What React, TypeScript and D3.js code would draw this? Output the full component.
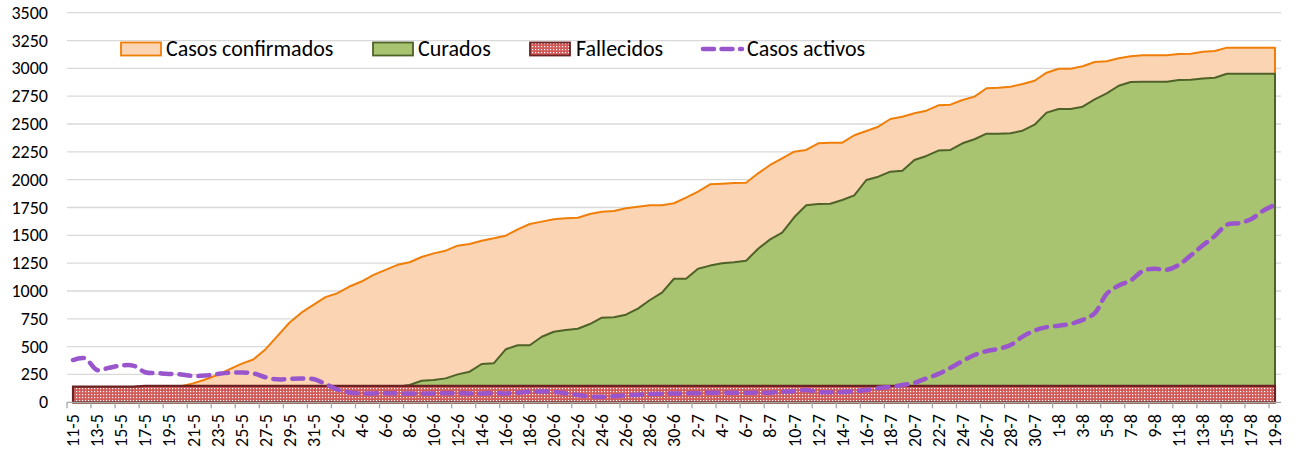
import { useEffect, useRef } from 'react';
import * as d3 from 'd3';

// Daily categories from 11-5 to 19-8
const startDay = new Date(2020, 4, 11);
const endDay = new Date(2020, 7, 20);
const fmtDay = d3.timeFormat('%-d-%-m');
const DATES = d3.timeDay.range(startDay, endDay).map(d => fmtDay(d));

const Y_TICKS = [0, 250, 500, 750, 1000, 1250, 1500, 1750, 2000, 2250, 2500, 2750, 3000, 3250, 3500];

const CONFIRMADOS = [
  110, 112, 115, 118, 120, 124, 128, 132, 138, 145,
  170, 205, 245, 295, 345, 385, 475, 595, 715, 805,
  875, 945, 980, 1040, 1085, 1145, 1190, 1235, 1258, 1305,
  1338, 1362, 1407, 1422, 1452, 1473, 1497, 1554, 1602, 1623,
  1644, 1653, 1658, 1692, 1712, 1719, 1743, 1757, 1770, 1770,
  1788, 1838, 1892, 1958, 1964, 1970, 1973, 2057, 2132, 2192,
  2251, 2267, 2327, 2332, 2332, 2399, 2437, 2476, 2545, 2566,
  2596, 2620, 2668, 2674, 2716, 2746, 2821, 2826, 2835, 2860,
  2889, 2961, 2997, 2997, 3019, 3057, 3064, 3090, 3108, 3117,
  3117, 3117, 3129, 3132, 3150, 3156, 3186, 3186, 3186, 3186,
  3186,
];

const CURADOS = [
  20, 22, 25, 28, 30, 33, 36, 40, 44, 48,
  52, 56, 60, 65, 70, 75, 80, 85, 90, 95,
  100, 105, 110, 115, 120, 125, 132, 140, 155, 194,
  200, 215, 251, 275, 344, 350, 476, 512, 512, 589,
  634, 650, 661, 703, 760, 764, 787, 841, 919, 985,
  1110, 1110, 1200, 1228, 1249, 1258, 1272, 1380, 1464, 1524,
  1662, 1770, 1781, 1784, 1817, 1859, 1997, 2027, 2072, 2081,
  2177, 2213, 2261, 2267, 2327, 2363, 2413, 2413, 2417, 2440,
  2494, 2602, 2635, 2635, 2656, 2722, 2776, 2844, 2877, 2880,
  2880, 2880, 2895, 2898, 2908, 2916, 2952, 2952, 2952, 2952,
  2952,
];

const FALLECIDOS = [
  140, 140, 140, 140, 140, 140, 148, 148, 148, 148,
  148, 148, 148, 148, 148, 148, 148, 148, 148, 148,
  148, 148, 148, 148, 148, 148, 148, 148, 148, 148,
  148, 148, 148, 148, 148, 148, 148, 148, 148, 148,
  148, 148, 148, 148, 148, 148, 148, 148, 148, 148,
  148, 148, 148, 148, 148, 148, 148, 148, 148, 148,
  148, 148, 148, 148, 148, 148, 148, 148, 148, 148,
  148, 148, 148, 148, 148, 148, 148, 148, 148, 148,
  148, 148, 148, 148, 148, 148, 148, 148, 148, 148,
  148, 148, 148, 148, 148, 148, 148, 148, 148, 148,
  148,
];

const ACTIVOS = [
  380, 395, 290, 310, 330, 330, 270, 262, 255, 250,
  237, 240, 254, 265, 268, 260, 225, 206, 210, 213,
  209, 165, 115, 88, 80, 80, 82, 80, 78, 80,
  80, 82, 82, 80, 80, 82, 80, 85, 95, 98,
  95, 80, 65, 52, 50, 55, 62, 68, 74, 78,
  80, 80, 82, 86, 86, 86, 86, 86, 86, 95,
  100, 110, 92, 90, 92, 100, 110, 128, 140, 155,
  175, 215, 255, 310, 370, 425, 460, 480, 515, 590,
  645, 675, 688, 705, 740, 800, 975, 1050, 1095, 1180,
  1200, 1190, 1235, 1320, 1410, 1495, 1595, 1610, 1645, 1720,
  1775,
];

const FONT = "Carlito, Calibri, 'Liberation Sans', Arial, sans-serif";

export default function App() {
  const svgRef = useRef<SVGSVGElement>(null);

  useEffect(() => {
    if (!svgRef.current) return;
    const W = 1299;
    const H = 455;
    const M = { left: 67, right: 1281, top: 12.7, bottom: 402.3 };

    const svg = d3.select(svgRef.current).attr('width', W).attr('height', H);
    svg.selectAll('*').remove();

    const x = d3.scaleBand<string>().domain(DATES).range([M.left, M.right]).padding(0);
    const cx = (i: number) => (x(DATES[i]) ?? 0) + x.bandwidth() / 2;
    const y = d3.scaleLinear().domain([0, 3500]).range([M.bottom, M.top]);

    // dotted pattern for Fallecidos
    const defs = svg.append('defs');
    const pat = defs.append('pattern').attr('id', 'dots')
      .attr('width', 3).attr('height', 3).attr('patternUnits', 'userSpaceOnUse');
    pat.append('rect').attr('width', 3).attr('height', 3).attr('fill', '#d25a58');
    pat.append('rect').attr('x', 1).attr('y', 1).attr('width', 1.2).attr('height', 1.2).attr('fill', '#ffffff');

    // Grid
    svg.append('g').selectAll('line').data(Y_TICKS.slice(1)).join('line')
      .attr('x1', M.left).attr('x2', M.right)
      .attr('y1', d => y(d)).attr('y2', d => y(d))
      .style('stroke', '#d9d9d9').style('stroke-width', 1.3);

    // Y labels
    svg.append('g').selectAll('text').data(Y_TICKS).join('text')
      .attr('x', 48).attr('y', d => y(d) + 6)
      .attr('text-anchor', 'end')
      .style('font-family', FONT).style('font-size', '18px').style('fill', '#000')
      .text(d => d);

    // Areas (overlapping, not stacked)
    const area = d3.area<number>()
      .x((_, i) => cx(i))
      .y0(y(0))
      .y1(d => y(d));

    svg.append('path').datum(CONFIRMADOS).attr('d', area)
      .style('fill', '#fbd4b4').style('stroke', '#f07f09').style('stroke-width', 2)
      .style('stroke-linejoin', 'round');
    svg.append('path').datum(CURADOS).attr('d', area)
      .style('fill', '#a9c470').style('stroke', '#4f6228').style('stroke-width', 2)
      .style('stroke-linejoin', 'round');
    svg.append('path').datum(FALLECIDOS).attr('d', area)
      .style('fill', 'url(#dots)').style('stroke', '#6b2222').style('stroke-width', 2.2);

    // X axis line and ticks
    svg.append('line').attr('x1', M.left).attr('x2', M.right)
      .attr('y1', y(0)).attr('y2', y(0))
      .style('stroke', '#a6a6a6').style('stroke-width', 1.3);
    const tickIdx = d3.range(0, DATES.length, 2);
    svg.append('g').selectAll('line').data(tickIdx).join('line')
      .attr('x1', i => x(DATES[i]) ?? 0).attr('x2', i => x(DATES[i]) ?? 0)
      .attr('y1', y(0)).attr('y2', y(0) + 6)
      .style('stroke', '#a6a6a6').style('stroke-width', 1.3);

    // X labels
    svg.append('g').selectAll('text').data(tickIdx).join('text')
      .attr('transform', i => `translate(${cx(i)},414) rotate(-90)`)
      .attr('dy', '0.35em')
      .attr('text-anchor', 'end')
      .style('font-family', FONT).style('font-size', '18px').style('fill', '#000')
      .text(i => DATES[i]);

    // Casos activos line
    const line = d3.line<number>()
      .x((_, i) => cx(i))
      .y(d => y(d))
      .curve(d3.curveCatmullRom.alpha(0.5));
    svg.append('path').datum(ACTIVOS).attr('d', line)
      .style('fill', 'none').style('stroke', '#9955cc').style('stroke-width', 4.5)
      .style('stroke-dasharray', '11,8').style('stroke-linecap', 'round');

    // Legend
    const lg = svg.append('g').style('font-family', FONT).style('font-size', '22px');
    const patches = [
      { x: 121, fill: '#fbd4b4', stroke: '#f07f09', label: 'Casos confirmados', tx: 166 },
      { x: 373, fill: '#a9c470', stroke: '#4f6228', label: 'Curados', tx: 418 },
      { x: 530, fill: 'url(#dots)', stroke: '#6b2222', label: 'Fallecidos', tx: 576 },
    ];
    for (const p of patches) {
      lg.append('rect').attr('x', p.x).attr('y', 42.5).attr('width', 40).attr('height', 13)
        .style('fill', p.fill).style('stroke', p.stroke).style('stroke-width', 1.8);
      lg.append('text').attr('x', p.tx).attr('y', 56).style('fill', '#000').text(p.label);
    }
    lg.append('line').attr('x1', 703).attr('x2', 742).attr('y1', 49).attr('y2', 49)
      .style('stroke', '#9955cc').style('stroke-width', 4.5)
      .style('stroke-dasharray', '11,7.5').style('stroke-linecap', 'round');
    lg.append('text').attr('x', 747).attr('y', 56).style('fill', '#000').text('Casos activos');
  }, []);

  return (
    <div style={{ position: 'absolute', left: 0, top: 0, background: '#fff' }}>
      <svg ref={svgRef} style={{ display: 'block' }} />
    </div>
  );
}
